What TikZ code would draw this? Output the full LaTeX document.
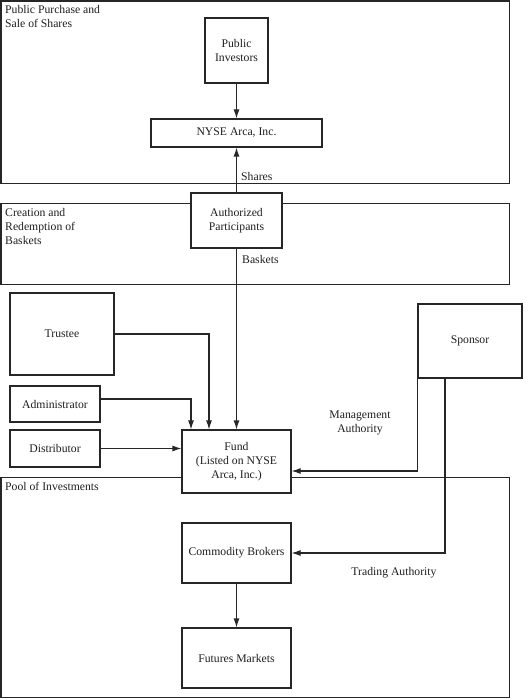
\documentclass[tikz,border=0pt]{standalone}
\usepackage{fontspec}
\setmainfont{Liberation Serif}
\usetikzlibrary{arrows.meta}
\begin{document}
\begin{tikzpicture}[x=1pt,y=-1pt,
  every node/.style={font=\fontsize{11.7}{14}\selectfont, text=black!88},
  box/.style={draw=black!85, line width=1.1pt, fill=white, inner sep=2pt, align=center, anchor=center},
  region/.style={draw=black!85, line width=1.1pt, inner sep=0pt, anchor=north west},
  rlabel/.style={anchor=north west, align=left, inner sep=0pt},
  arr/.style={draw=black!85, line width=1.1pt, -{Latex[length=9pt,width=6pt]}},
  lbl/.style={inner sep=0pt}]
\useasboundingbox (0,0) rectangle (529,698);
% regions
\node[region, minimum width=508.5pt, minimum height=182.5pt] (rtop) at (0.5,0.5) {};
\node[region, minimum width=508.5pt, minimum height=81pt] (rcre) at (0.5,203) {};
\node[region, minimum width=508.5pt, minimum height=220pt] (rpool) at (0.5,477) {};
\node[rlabel] (ltop) at (5,5) {Public Purchase and\\Sale of Shares};
\node[rlabel] (lcre) at (5,208) {Creation and\\Redemption of\\Baskets};
\node[rlabel] (lpool) at (5,482) {Pool of Investments};
% boxes
\node[box, minimum width=63pt, minimum height=65pt] (pi) at (236.5,50.5) {Public\\Investors};
\node[box, minimum width=171pt, minimum height=28pt] (nyse) at (236.5,133) {NYSE Arca, Inc.};
\node[box, minimum width=91pt, minimum height=55pt] (ap) at (236.5,220.5) {Authorized\\Participants};
\node[box, minimum width=104pt, minimum height=82pt] (trustee) at (62,334) {Trustee};
\node[box, minimum width=90pt, minimum height=36pt] (admin) at (55,404) {Administrator};
\node[box, minimum width=90pt, minimum height=37pt] (dist) at (55,448.5) {Distributor};
\node[box, minimum width=109pt, minimum height=63pt] (fund) at (236.5,461.5) {Fund\\(Listed on NYSE\\Arca, Inc.)};
\node[box, minimum width=104pt, minimum height=74pt] (sponsor) at (470,341) {Sponsor};
\node[box, minimum width=109pt, minimum height=60pt] (cb) at (236.5,553) {Commodity Brokers};
\node[box, minimum width=109pt, minimum height=60pt] (fm) at (236.5,658) {Futures Markets};
% connectors
\draw[arr] (pi.south) -- (nyse.north);
\draw[arr] (ap.north) -- (nyse.south);
\draw[arr] (ap.south) -- (fund.north);
\draw[arr] (trustee.east) -| ([xshift=-27.5pt]fund.north);
\draw[arr] ([yshift=5pt]admin.east) -| ([xshift=-45.5pt]fund.north);
\draw[arr] (dist.east) -- (fund.west |- dist.east);
\draw[arr] (sponsor.south west) |- ([yshift=-9.5pt]fund.east);
\draw[arr] ([xshift=-25pt]sponsor.south) |- (cb.east);
\draw[arr] (cb.south) -- (fm.north);
% labels
\node[lbl, anchor=west] (shares) at (241,176) {Shares};
\node[lbl, anchor=west] (baskets) at (242,259) {Baskets};
\node[lbl, align=center] (mgmt) at (360,423) {Management\\Authority};
\node[lbl] (trading) at (394,573) {Trading Authority};
\end{tikzpicture}
\end{document}
